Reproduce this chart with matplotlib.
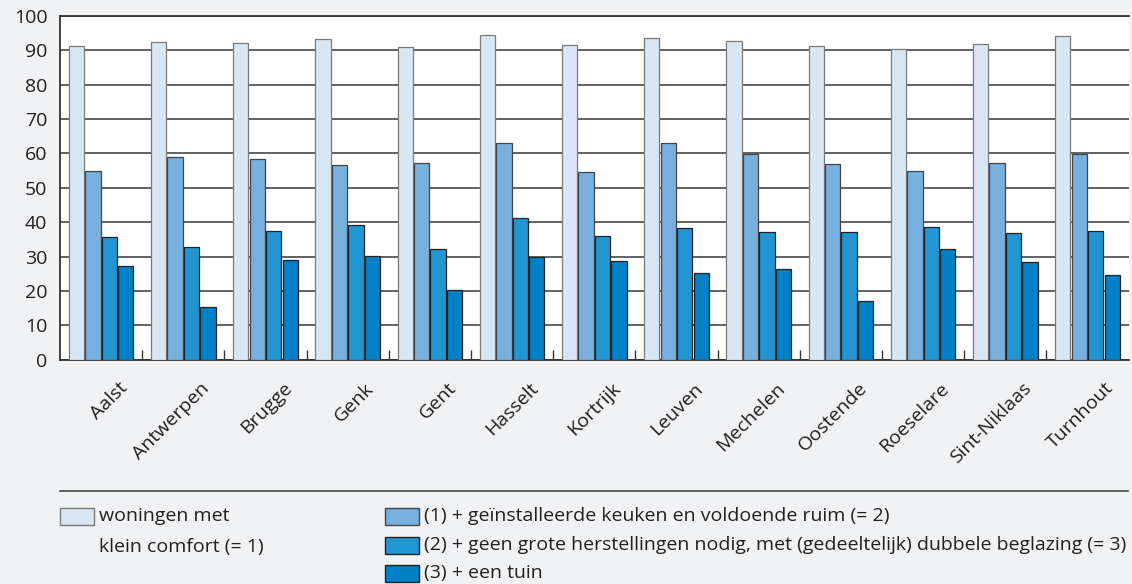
import matplotlib
matplotlib.use('Agg')
import matplotlib.pyplot as plt
import matplotlib.transforms as mtransforms
import numpy as np
from matplotlib.patches import Rectangle
from matplotlib.lines import Line2D

plt.rcParams['font.family'] = ['Open Sans', 'DejaVu Sans']

# gegevens
steden = ['Aalst', 'Antwerpen', 'Brugge', 'Genk', 'Gent', 'Hasselt', 'Kortrijk',
          'Leuven', 'Mechelen', 'Oostende', 'Roeselare', 'Sint-Niklaas', 'Turnhout']
klein_comfort = [91.2, 92.5, 92.2, 93.2, 91.0, 94.5, 91.4, 93.5, 92.8, 91.2, 90.3, 91.8, 94.0]
keuken_ruim = [55.0, 58.8, 58.5, 56.6, 57.1, 63.0, 54.7, 63.1, 59.8, 56.8, 55.0, 57.3, 59.8]
beglazing = [35.6, 32.7, 37.4, 39.2, 32.3, 41.3, 36.0, 38.4, 37.0, 37.1, 38.6, 36.9, 37.4]
tuin = [27.3, 15.3, 29.0, 30.1, 20.2, 30.0, 28.8, 25.3, 26.3, 17.0, 32.1, 28.3, 24.7]

labels = ['woningen met\nklein comfort (= 1)',
          '(1) + geïnstalleerde keuken en voldoende ruim (= 2)',
          '(2) + geen grote herstellingen nodig, met (gedeeltelijk) dubbele beglazing (= 3)',
          '(3) + een tuin']
kleuren = ['#D9E7F5', '#77B0DF', '#2196D3', '#0080C6']
randen = ['#7a7a7a', '#444444', '#222222', '#222222']

bg = '#F1F2F4'
tekst = '#231f20'
fs = 14
fig = plt.figure(figsize=(11.32, 5.84), dpi=100, facecolor=bg)
ax = fig.add_axes([0.053, 0.384, 0.944, 0.589])
ax.set_facecolor('white')

reeksen = [klein_comfort, keuken_ruim, beglazing, tuin]
x = np.arange(len(steden))
w = 0.2
for i, (vals, c, e) in enumerate(zip(reeksen, kleuren, randen)):
    ax.bar(x + (i - 1.5) * w, vals, width=w * 0.93, color=c, edgecolor=e,
           linewidth=0.9, zorder=3)

ax.set_xlim(-0.5, len(steden) - 0.5)
ax.set_ylim(0, 100)
ax.set_yticks(np.arange(0, 101, 10))
ax.yaxis.grid(True, color='#555555', linewidth=1.3, zorder=0)
ax.tick_params(axis='y', length=0, pad=9, labelsize=fs, colors=tekst)

ax.set_xticks(x)
ax.set_xticklabels(steden, rotation=45, ha='right', va='top',
                   rotation_mode='anchor', fontsize=fs, color=tekst)
ax.tick_params(axis='x', which='major', length=0, pad=14)
verschuif = mtransforms.ScaledTranslation(17 / 100, 0, fig.dpi_scale_trans)
for t in ax.get_xticklabels():
    t.set_transform(t.get_transform() + verschuif)
ax.set_xticks(np.arange(0.5, len(steden) - 0.5, 1), minor=True)
ax.tick_params(axis='x', which='minor', direction='in', length=7,
               width=1.0, color='#333333')

for s in ['left', 'bottom', 'top']:
    ax.spines[s].set_color('#333333')
    ax.spines[s].set_linewidth(1.3)
ax.spines['right'].set_visible(False)

# legenda onder de grafiek
fig.add_artist(Line2D([60 / 1132, 1128 / 1132], [1 - 491 / 584, 1 - 491 / 584],
                      color='#444444', linewidth=1.2))
posities = [(60, 516), (385, 516), (385, 545), (385, 573)]
for (px, py), lab, c, e in zip(posities, labels, kleuren, randen):
    fig.add_artist(Rectangle((px / 1132, 1 - (py + 8.5) / 584), 34 / 1132, 17 / 584,
                             facecolor=c, edgecolor=e, linewidth=1.0))
    regels = lab.split('\n')
    for k, regel in enumerate(regels):
        fig.text((px + 39) / 1132, 1 - (py + 31 * k) / 584, regel, va='center',
                 fontsize=fs, color=tekst)

fig.savefig('out.png', dpi=100, facecolor=bg)
